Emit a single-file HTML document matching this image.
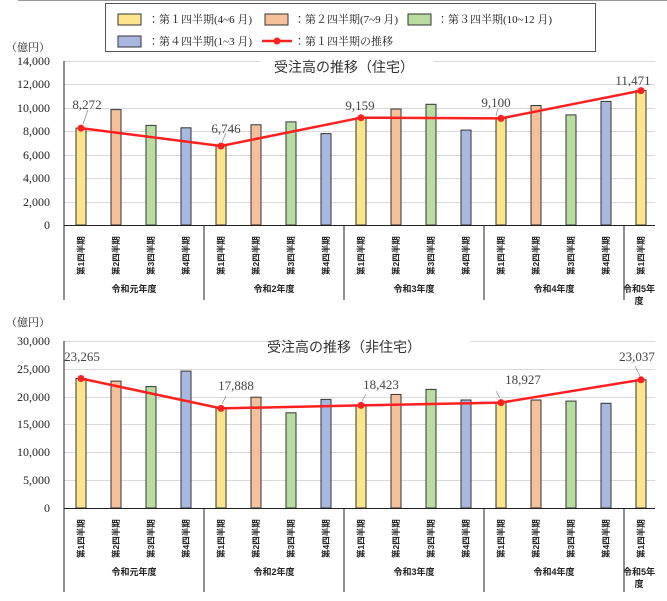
<!DOCTYPE html>
<html><head><meta charset="utf-8"><style>
body{margin:0;background:#fff}
svg{display:block;font-family:"Liberation Serif","Noto Serif CJK SC",serif}
.t{font-size:12px;fill:#222;text-anchor:end}
.v{font-size:13px;fill:#444;text-anchor:middle}
.c{font-family:"Liberation Sans","Noto Sans CJK JP",sans-serif;font-size:8.5px;fill:#222;font-weight:bold}
.y{font-family:"Liberation Sans","Noto Sans CJK JP",sans-serif;font-size:9px;fill:#222;font-weight:bold;text-anchor:middle}
.h{font-family:"Liberation Sans","Noto Sans CJK JP",sans-serif;font-size:14px;fill:#333;text-anchor:middle}
.g{stroke:#d9d9d9;stroke-width:1}
.b1{fill:#fde58c;stroke:#333}.b2{fill:#f6c09a;stroke:#333}.b3{fill:#b9dca0;stroke:#333}.b4{fill:#a9b8e0;stroke:#333}
.lg{font-family:"Liberation Serif","Noto Serif CJK JP",serif;font-size:11px;fill:#222}
</style></head><body>
<svg width="667" height="601" viewBox="0 0 667 601">
<line x1="18" y1="0.5" x2="667" y2="0.5" stroke="#999"/>
<!-- legend -->
<rect x="105.5" y="3.5" width="490" height="48" fill="#fff" stroke="#555"/>
<rect x="118" y="14" width="23" height="11" class="b1"/><text x="148" y="23" class="lg">：第１四半期(4~6 月)</text>
<rect x="265" y="14" width="23" height="11" class="b2"/><text x="294" y="23" class="lg">：第２四半期(7~9 月)</text>
<rect x="408" y="14" width="23" height="11" class="b3"/><text x="437" y="23" class="lg">：第３四半期(10~12 月)</text>
<rect x="118" y="36" width="23" height="11" class="b4"/><text x="148" y="45" class="lg">：第４四半期(1~3 月)</text>
<line x1="262" y1="41" x2="292" y2="41" stroke="#ff2020" stroke-width="2.5"/><circle cx="277" cy="41" r="3.5" fill="#ff2020"/>
<text x="294" y="45" class="lg">：第１四半期の推移</text>

<!-- TOP CHART -->
<text x="50" y="51" class="t" style="font-size:11px">（億円）</text>
<g class="g">
<line x1="64" y1="61.5" x2="260" y2="61.5"/><line x1="434" y1="61.5" x2="655" y2="61.5"/>
<line x1="64" y1="84.5" x2="655" y2="84.5"/><line x1="64" y1="108.5" x2="655" y2="108.5"/>
<line x1="64" y1="131.5" x2="655" y2="131.5"/><line x1="64" y1="155.5" x2="655" y2="155.5"/>
<line x1="64" y1="178.5" x2="655" y2="178.5"/><line x1="64" y1="202.5" x2="655" y2="202.5"/>
</g>
<text x="50" y="65" class="t">14,000</text><text x="50" y="88" class="t">12,000</text><text x="50" y="112" class="t">10,000</text>
<text x="50" y="135" class="t">8,000</text><text x="50" y="159" class="t">6,000</text><text x="50" y="182" class="t">4,000</text>
<text x="50" y="206" class="t">2,000</text><text x="50" y="229" class="t">0</text>
<text x="344" y="72" class="h">受注高の推移（住宅）</text>
<rect x="76" y="128.1" width="10" height="96.9" class="b1"/>
<rect x="111" y="109.6" width="10" height="115.4" class="b2"/>
<rect x="146" y="125.4" width="10" height="99.6" class="b3"/>
<rect x="181" y="127.8" width="10" height="97.2" class="b4"/>
<rect x="216" y="146" width="10" height="79" class="b1"/>
<rect x="251" y="124.8" width="10" height="100.2" class="b2"/>
<rect x="286" y="121.9" width="10" height="103.1" class="b3"/>
<rect x="321" y="133.6" width="10" height="91.4" class="b4"/>
<rect x="356" y="117.7" width="10" height="107.3" class="b1"/>
<rect x="391" y="109" width="10" height="116" class="b2"/>
<rect x="426" y="104.3" width="10" height="120.7" class="b3"/>
<rect x="461" y="130.1" width="10" height="94.9" class="b4"/>
<rect x="496" y="118.4" width="10" height="106.6" class="b1"/>
<rect x="531" y="105.5" width="10" height="119.5" class="b2"/>
<rect x="566" y="114.9" width="10" height="110.1" class="b3"/>
<rect x="601" y="101.4" width="10" height="123.6" class="b4"/>
<rect x="636" y="90.6" width="10" height="134.4" class="b1"/>
<polyline points="81,128.1 221,146 361,117.7 501,118.4 641,90.6" fill="none" stroke="#ff2020" stroke-width="2.5"/>
<g fill="#ff2020"><circle cx="81" cy="128.1" r="3.5"/><circle cx="221" cy="146" r="3.5"/><circle cx="361" cy="117.7" r="3.5"/><circle cx="501" cy="118.4" r="3.5"/><circle cx="641" cy="90.6" r="3.5"/></g>
<g stroke="#888" stroke-width="0.7"><line x1="83" y1="124" x2="88" y2="110"/><line x1="222" y1="142" x2="226" y2="133"/><line x1="496" y1="116" x2="498" y2="108"/></g>
<text x="87" y="109" class="v">8,272</text><text x="226" y="133" class="v">6,746</text><text x="360" y="110" class="v">9,159</text>
<text x="496" y="107" class="v">9,100</text><text x="633" y="85" class="v">11,471</text>
<g stroke="#222" stroke-width="1">
<line x1="64" y1="61" x2="64" y2="300"/><line x1="64" y1="225.5" x2="655" y2="225.5"/>
<line x1="204" y1="225" x2="204" y2="300"/><line x1="344" y1="225" x2="344" y2="300"/><line x1="484" y1="225" x2="484" y2="300"/><line x1="624" y1="225" x2="624" y2="300"/>
</g>
<g class="c">
<text transform="translate(84,275) rotate(-90)">第1四半期</text><text transform="translate(119,275) rotate(-90)">第2四半期</text><text transform="translate(154,275) rotate(-90)">第3四半期</text><text transform="translate(189,275) rotate(-90)">第4四半期</text>
<text transform="translate(224,275) rotate(-90)">第1四半期</text><text transform="translate(259,275) rotate(-90)">第2四半期</text><text transform="translate(294,275) rotate(-90)">第3四半期</text><text transform="translate(329,275) rotate(-90)">第4四半期</text>
<text transform="translate(364,275) rotate(-90)">第1四半期</text><text transform="translate(399,275) rotate(-90)">第2四半期</text><text transform="translate(434,275) rotate(-90)">第3四半期</text><text transform="translate(469,275) rotate(-90)">第4四半期</text>
<text transform="translate(504,275) rotate(-90)">第1四半期</text><text transform="translate(539,275) rotate(-90)">第2四半期</text><text transform="translate(574,275) rotate(-90)">第3四半期</text><text transform="translate(609,275) rotate(-90)">第4四半期</text>
<text transform="translate(644,275) rotate(-90)">第1四半期</text>
</g>
<text x="134" y="292" class="y">令和元年度</text><text x="274" y="292" class="y">令和2年度</text><text x="414" y="292" class="y">令和3年度</text><text x="554" y="292" class="y">令和4年度</text>
<text x="639" y="292" class="y">令和5年</text><text x="639" y="304" class="y">度</text>

<!-- BOTTOM CHART -->
<text x="50" y="326" class="t" style="font-size:11px">（億円）</text>
<g class="g">
<line x1="64" y1="341.5" x2="290" y2="341.5"/><line x1="470" y1="341.5" x2="655" y2="341.5"/>
<line x1="64" y1="369.5" x2="655" y2="369.5"/><line x1="64" y1="397.5" x2="655" y2="397.5"/>
<line x1="64" y1="424.5" x2="655" y2="424.5"/><line x1="64" y1="452.5" x2="655" y2="452.5"/>
<line x1="64" y1="480.5" x2="655" y2="480.5"/>
</g>
<text x="50" y="345" class="t">30,000</text><text x="50" y="373" class="t">25,000</text><text x="50" y="401" class="t">20,000</text>
<text x="50" y="428" class="t">15,000</text><text x="50" y="456" class="t">10,000</text><text x="50" y="484" class="t">5,000</text>
<text x="50" y="512" class="t">0</text>
<text x="344" y="352" class="h">受注高の推移（非住宅）</text>
<rect x="76" y="378.5" width="10" height="129.5" class="b1"/>
<rect x="111" y="381.1" width="10" height="126.9" class="b2"/>
<rect x="146" y="386.6" width="10" height="121.4" class="b3"/>
<rect x="181" y="371.1" width="10" height="136.9" class="b4"/>
<rect x="216" y="408.4" width="10" height="99.6" class="b1"/>
<rect x="251" y="397.2" width="10" height="110.8" class="b2"/>
<rect x="286" y="412.8" width="10" height="95.2" class="b3"/>
<rect x="321" y="399.4" width="10" height="108.6" class="b4"/>
<rect x="356" y="405.4" width="10" height="102.6" class="b1"/>
<rect x="391" y="394.4" width="10" height="113.6" class="b2"/>
<rect x="426" y="389.4" width="10" height="118.6" class="b3"/>
<rect x="461" y="400" width="10" height="108" class="b4"/>
<rect x="496" y="402.6" width="10" height="105.4" class="b1"/>
<rect x="531" y="400" width="10" height="108" class="b2"/>
<rect x="566" y="401.1" width="10" height="106.9" class="b3"/>
<rect x="601" y="403.3" width="10" height="104.7" class="b4"/>
<rect x="636" y="379.8" width="10" height="128.2" class="b1"/>
<polyline points="81,378.5 221,408.4 361,405.4 501,402.6 641,379.8" fill="none" stroke="#ff2020" stroke-width="2.5"/>
<g fill="#ff2020"><circle cx="81" cy="378.5" r="3.5"/><circle cx="221" cy="408.4" r="3.5"/><circle cx="361" cy="405.4" r="3.5"/><circle cx="501" cy="402.6" r="3.5"/><circle cx="641" cy="379.8" r="3.5"/></g>
<g stroke="#888" stroke-width="0.7"><line x1="222" y1="404" x2="226" y2="396"/><line x1="362" y1="401" x2="366" y2="394"/><line x1="500" y1="398" x2="496" y2="391"/><line x1="640" y1="376" x2="635" y2="366"/></g>
<text x="82" y="361" class="v">23,265</text><text x="236" y="390" class="v">17,888</text><text x="381" y="389" class="v">18,423</text>
<text x="523" y="384" class="v">18,927</text><text x="637" y="361" class="v">23,037</text>
<g stroke="#222" stroke-width="1">
<line x1="64" y1="341" x2="64" y2="592"/><line x1="64" y1="508.5" x2="655" y2="508.5"/>
<line x1="204" y1="508" x2="204" y2="592"/><line x1="344" y1="508" x2="344" y2="592"/><line x1="484" y1="508" x2="484" y2="592"/><line x1="624" y1="508" x2="624" y2="592"/>
</g>
<g class="c">
<text transform="translate(84,558) rotate(-90)">第1四半期</text><text transform="translate(119,558) rotate(-90)">第2四半期</text><text transform="translate(154,558) rotate(-90)">第3四半期</text><text transform="translate(189,558) rotate(-90)">第4四半期</text>
<text transform="translate(224,558) rotate(-90)">第1四半期</text><text transform="translate(259,558) rotate(-90)">第2四半期</text><text transform="translate(294,558) rotate(-90)">第3四半期</text><text transform="translate(329,558) rotate(-90)">第4四半期</text>
<text transform="translate(364,558) rotate(-90)">第1四半期</text><text transform="translate(399,558) rotate(-90)">第2四半期</text><text transform="translate(434,558) rotate(-90)">第3四半期</text><text transform="translate(469,558) rotate(-90)">第4四半期</text>
<text transform="translate(504,558) rotate(-90)">第1四半期</text><text transform="translate(539,558) rotate(-90)">第2四半期</text><text transform="translate(574,558) rotate(-90)">第3四半期</text><text transform="translate(609,558) rotate(-90)">第4四半期</text>
<text transform="translate(644,558) rotate(-90)">第1四半期</text>
</g>
<text x="134" y="575" class="y">令和元年度</text><text x="274" y="575" class="y">令和2年度</text><text x="414" y="575" class="y">令和3年度</text><text x="554" y="575" class="y">令和4年度</text>
<text x="639" y="575" class="y">令和5年</text><text x="639" y="587" class="y">度</text>
</svg>
</body></html>
